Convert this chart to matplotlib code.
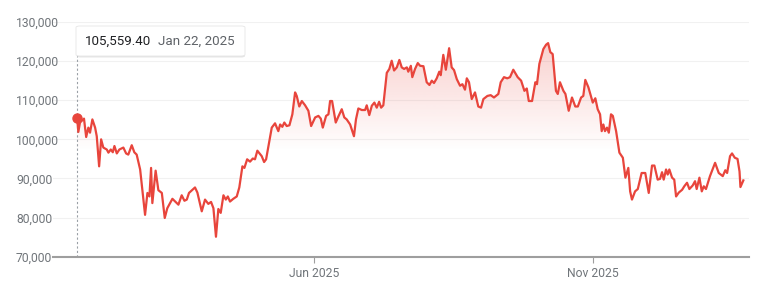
import numpy as np
import matplotlib
matplotlib.use("Agg")
import matplotlib.pyplot as plt
import matplotlib.dates as mdates
from matplotlib.patches import FancyBboxPatch

plt.rcParams['font.family'] = ['Roboto', 'DejaVu Sans']

# days after Jan 22, 2025 and closing price
day_offsets = [
    0, 0.7, 1.6, 3.8, 5.0, 6.2, 7.1, 8.4, 9.9, 10.8, 12.1, 13.2, 14.4, 16.3, 17.2,
    18.5, 19.6, 20.5, 21.8, 23.2, 25.4, 26.9, 28.1, 30.0, 31.4, 32.7, 34.6, 37.3,
    38.6, 39.7, 40.6, 41.3, 43.1, 44.6, 46.5, 48.1, 49.5, 51.0, 52.3, 53.8, 55.6,
    57.4, 58.9, 60.2, 61.4, 64.7, 66.0, 68.4, 70.2, 72.0, 73.5, 74.8, 76.2, 77.5,
    78.8, 80.3, 81.6, 82.7, 83.9, 85.7, 87.6, 89.0, 90.7, 91.8, 93.3, 94.9, 96.4,
    97.6, 98.9, 101.3, 102.6, 103.7, 106.8, 108.6, 110.4, 111.4, 112.6, 113.7,
    115.0, 116.5, 118.1, 119.6, 120.5, 121.9, 123.3, 125.1, 126.9, 128.4, 130.6,
    132.4, 133.7, 134.8, 136.6, 137.9, 138.8, 139.9, 141.9, 143.3, 145.2, 146.6,
    147.9, 149.8, 151.9, 153.0, 154.3, 156.2, 158.0, 158.9, 160.3, 161.7, 163.1,
    164.4, 165.7, 166.8, 168.0, 169.9, 171.3, 172.6, 173.9, 175.4, 176.8, 178.1,
    179.4, 180.9, 181.7, 183.1, 183.9, 185.4, 186.9, 188.2, 190.0, 191.8, 193.3,
    194.6, 195.8, 197.3, 198.7, 199.5, 200.9, 202.3, 204.1, 205.5, 206.8, 208.3,
    210.1, 211.4, 212.8, 213.8, 215.0, 216.5, 218.3, 220.1, 221.6, 222.9, 225.1,
    226.9, 228.7, 231.1, 232.4, 234.2, 236.0, 237.5, 239.3, 241.7, 243.6, 245.4,
    246.7, 247.8, 249.6, 251.4, 252.3, 253.6, 255.8, 257.3, 258.4, 259.6, 260.9,
    262.7, 263.7, 264.9, 266.8, 267.9, 269.7, 271.5, 273.3, 274.7, 276.5, 277.7,
    278.8, 280.5, 282.9, 284.3, 285.6, 286.9, 287.8, 288.7, 289.6, 290.7, 291.7,
    292.9, 293.9, 295.7, 297.5, 299.4, 300.8, 302.4, 303.4, 304.4, 306.1, 307.6,
    308.4, 309.7, 311.7, 313.6, 315.4, 316.7, 318.5, 319.8, 320.9, 321.8, 323.1,
    324.0, 324.9, 326.4, 327.6, 328.6, 330.1, 331.9, 333.1, 334.6, 335.9, 337.7,
    339.0, 339.9, 341.4, 342.7, 343.8, 345.0, 347.2, 350.0, 352.0, 354.2, 355.6,
    356.6, 358.2, 359.3, 360.8, 362.3, 363.4, 363.9, 365.5,
]
prices_k = [
    105.56, 101.9, 104.3, 105.3, 100.6, 103.0, 101.7, 105.1, 103.0, 100.8, 93.1,
    100.0, 97.9, 97.4, 96.6, 97.4, 96.7, 98.3, 96.4, 97.4, 97.9, 96.4, 96.1, 98.5,
    96.7, 96.1, 92.3, 80.7, 86.3, 85.4, 92.7, 83.7, 92.0, 87.0, 86.3, 79.9, 82.4,
    83.7, 84.8, 84.1, 83.3, 85.7, 84.3, 84.6, 86.3, 87.7, 86.4, 81.6, 84.6, 83.5,
    84.0, 82.4, 75.1, 82.2, 81.2, 85.7, 84.6, 85.4, 84.1, 84.8, 85.4, 87.7, 93.1,
    92.7, 94.9, 94.3, 95.1, 94.9, 97.1, 95.7, 94.2, 94.9, 103.0, 104.1, 102.1,
    103.8, 103.2, 104.3, 103.4, 103.6, 106.4, 112.0, 111.1, 108.4, 109.8, 108.7,
    107.3, 103.4, 105.6, 106.0, 105.3, 103.0, 106.0, 106.4, 109.8, 109.8, 104.3,
    105.8, 107.7, 105.6, 105.1, 103.8, 100.8, 105.1, 107.9, 107.5, 107.5, 108.7,
    106.2, 108.6, 109.4, 108.1, 109.6, 108.1, 108.7, 117.0, 118.0, 120.1, 117.6,
    118.4, 120.3, 118.4, 118.0, 118.4, 117.3, 118.8, 115.9, 118.0, 119.5, 118.8,
    118.7, 114.6, 113.9, 115.0, 114.4, 115.6, 117.3, 116.4, 121.6, 117.8, 123.3,
    118.4, 117.7, 115.4, 113.7, 114.1, 112.7, 115.6, 114.6, 110.3, 112.0, 108.4,
    108.1, 110.3, 111.1, 111.3, 110.7, 111.6, 114.6, 115.9, 115.6, 115.9, 117.8,
    115.9, 115.0, 112.4, 113.0, 109.8, 109.8, 114.6, 114.1, 119.3, 123.1, 124.2,
    124.6, 122.3, 121.8, 112.4, 111.6, 114.6, 112.4, 111.6, 107.3, 110.7, 108.4,
    108.4, 110.7, 111.1, 115.2, 113.3, 109.4, 110.5, 107.7, 106.4, 102.1, 103.8,
    102.1, 103.0, 101.7, 106.4, 106.0, 102.1, 96.6, 95.3, 90.2, 92.7, 86.7, 84.6,
    86.7, 87.3, 88.9, 91.4, 91.4, 86.3, 93.3, 93.3, 89.7, 89.9, 91.6, 89.7, 92.3,
    91.0, 92.3, 90.2, 89.7, 85.4, 86.4, 87.1, 88.0, 88.9, 87.3, 88.2, 89.3, 87.3,
    90.2, 86.7, 88.0, 87.3, 90.6, 94.0, 91.4, 90.6, 92.1, 91.4, 95.7, 96.4, 95.3,
    95.0, 91.8, 87.8, 89.5,
]
start_date = '2025-01-22'
tick_dates = ['2025-06-01', '2025-11-01']
tick_labels = ['Jun 2025', 'Nov 2025']
y_ticks = [70000, 80000, 90000, 100000, 110000, 120000, 130000]
tip_value = '105,559.40'
tip_date = 'Jan 22, 2025'

red = '#e8453c'
grey_txt = '#70757a'

t0 = mdates.date2num(np.datetime64(start_date))
x = t0 + np.array(day_offsets)
y = np.array(prices_k) * 1000

fig = plt.figure(figsize=(7.66, 2.87), dpi=100)
W, H = 766, 287
ax = fig.add_axes([53 / W, (H - 256.7) / H, (749 - 53) / W, (256.7 - 22) / H])

ax.set_xlim(t0 - 13.2, t0 + 368.6)
ax.set_ylim(70000, 130000)

# gradient fill under the line
grad = np.linspace(70000, 130000, 300)
alpha = np.clip((grad - 97000) / (127000 - 97000), 0, 1) * 0.27
rgba = np.zeros((300, 1, 4))
rgba[:, 0, :3] = matplotlib.colors.to_rgb(red)
rgba[:, 0, 3] = alpha
poly = ax.fill_between(x, y, 70000, facecolor='none', edgecolor='none')
im = ax.imshow(rgba, aspect='auto', origin='lower', interpolation='bilinear',
               extent=[x[0], x[-1], 70000, 130000], zorder=1)
im.set_clip_path(poly.get_paths()[0], transform=ax.transData)

ax.plot(x, y, color=red, lw=1.6, zorder=3, solid_joinstyle='round')
ax.plot(x[0], y[0], 'o', color=red, ms=6.5, zorder=4)

# dotted marker line below the tooltip
ax.axvline(x[0], ymin=0, ymax=(256.7 - 56) / (256.7 - 22), color='#9aa0a6',
           lw=0.8, ls=(0, (2, 2)), zorder=2)

for s in ['top', 'right', 'left']:
    ax.spines[s].set_visible(False)
ax.spines['bottom'].set_color('#9e9e9e')
ax.spines['bottom'].set_linewidth(1.5)

ax.set_yticks(y_ticks)
ax.set_yticklabels([f'{v:,}' for v in y_ticks])
ax.tick_params(axis='y', length=0, pad=37 * 0.72, labelsize=8.7, labelcolor=grey_txt)
for lab in ax.get_yticklabels():
    lab.set_horizontalalignment('left')
ax.grid(axis='y', color='#f1f1f1', lw=0.8)
ax.set_axisbelow(True)

ax.set_xticks([mdates.date2num(np.datetime64(d)) for d in tick_dates])
ax.set_xticklabels(tick_labels)
ax.tick_params(axis='x', length=4.5, width=0.8, color='#9e9e9e', pad=3,
               labelsize=8.7, labelcolor=grey_txt)

# tooltip box
shadow = FancyBboxPatch((77 / W, (H - 57.5) / H), 168 / W, 30 / H,
                        boxstyle='round,pad=0,rounding_size=0.005',
                        transform=fig.transFigure, facecolor='#000000', alpha=0.10,
                        edgecolor='none', zorder=5)
box = FancyBboxPatch((76 / W, (H - 56) / H), 169 / W, 30 / H,
                     boxstyle='round,pad=0,rounding_size=0.005',
                     transform=fig.transFigure, facecolor='white',
                     edgecolor='#e6e6e6', lw=0.6, zorder=6)
fig.patches.extend([shadow, box])
fig.text(85 / W, (H - 41) / H, tip_value, fontsize=9.6, color='#202124',
         va='center', ha='left', zorder=7)
fig.text(158 / W, (H - 41) / H, tip_date, fontsize=9.6, color='#5f6368',
         va='center', ha='left', zorder=7)

fig.savefig('out.png', dpi=100)
